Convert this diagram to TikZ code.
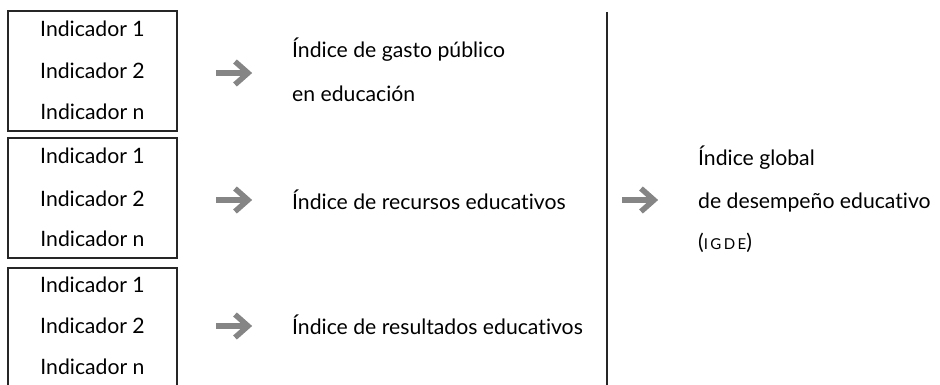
\documentclass[tikz,border=0pt]{standalone}
\usepackage{fontspec}
\setmainfont{Lato}[Ligatures={NoCommon,NoRare}]
\begin{document}
\begin{tikzpicture}[x=1pt,y=-1pt,
  boxline/.style={draw=black!85,line width=1.3pt},
  ind/.style={anchor=base,inner sep=0pt,font=\fontsize{21.2}{24}\selectfont},
  lbl/.style={anchor=base west,inner sep=0pt,font=\fontsize{21.2}{24}\selectfont},
  garrow/.style={draw=black!48,line width=5.5pt},
  ghead/.style={draw=black!48,line width=5.5pt,miter limit=10,line join=miter}]
\useasboundingbox (0,0) rectangle (940,385);
% boxes
\draw[boxline] (8,11) rectangle (177,131);
\draw[boxline] (8,138) rectangle (177,258);
\draw[boxline] (8,392) -- (8,268) -- (177,268) -- (177,392);
% box texts
\node[ind] (b1a) at (92.5,37) {Indicador 1};
\node[ind] (b1b) at (92.5,79) {Indicador 2};
\node[ind] (b1c) at (92.5,120) {Indicador n};
\node[ind] (b2a) at (92.5,164) {Indicador 1};
\node[ind] (b2b) at (92.5,206) {Indicador 2};
\node[ind] (b2c) at (92.5,246) {Indicador n};
\node[ind] (b3a) at (92.5,292) {Indicador 1};
\node[ind] (b3b) at (92.5,333) {Indicador 2};
\node[ind] (b3c) at (92.5,374) {Indicador n};
% middle labels
\node[lbl] (m1a) at (292,58) {Índice de gasto público};
\node[lbl] (m1b) at (292,102) {en educación};
\node[lbl] (m2) at (292,209) {Índice de recursos educativos};
\node[lbl] (m3) at (292,334) {Índice de resultados educativos};
% right labels
\node[lbl] (r1) at (698,165) {Índice global};
\node[lbl] (r2) at (698,208) {de desempeño educativo};
\node[lbl] (r3) at (698,249) {({\fontsize{15}{17}\selectfont\addfontfeature{LetterSpace=16}IGDE})};
% vertical line
\coordinate (vt) at (607,12);
\coordinate (vb) at (607,386);
\draw[draw=black!85,line width=1.4pt] (vt) -- (vb);
% arrows
\foreach \n/\x/\y in {a1/216/73, a2/216/200, a3/216/326, a4/622/200}{
  \coordinate (\n s) at (\x,\y);
  \coordinate (\n e) at (\x+30,\y);
  \coordinate (\n t) at (\x+19,\y-11.5);
  \coordinate (\n p) at (\x+32,\y);
  \coordinate (\n b) at (\x+19,\y+11.5);
  \draw[garrow] (\n s) -- (\n e);
  \draw[ghead] (\n t) -- (\n p) -- (\n b);
}
\end{tikzpicture}
\end{document}
